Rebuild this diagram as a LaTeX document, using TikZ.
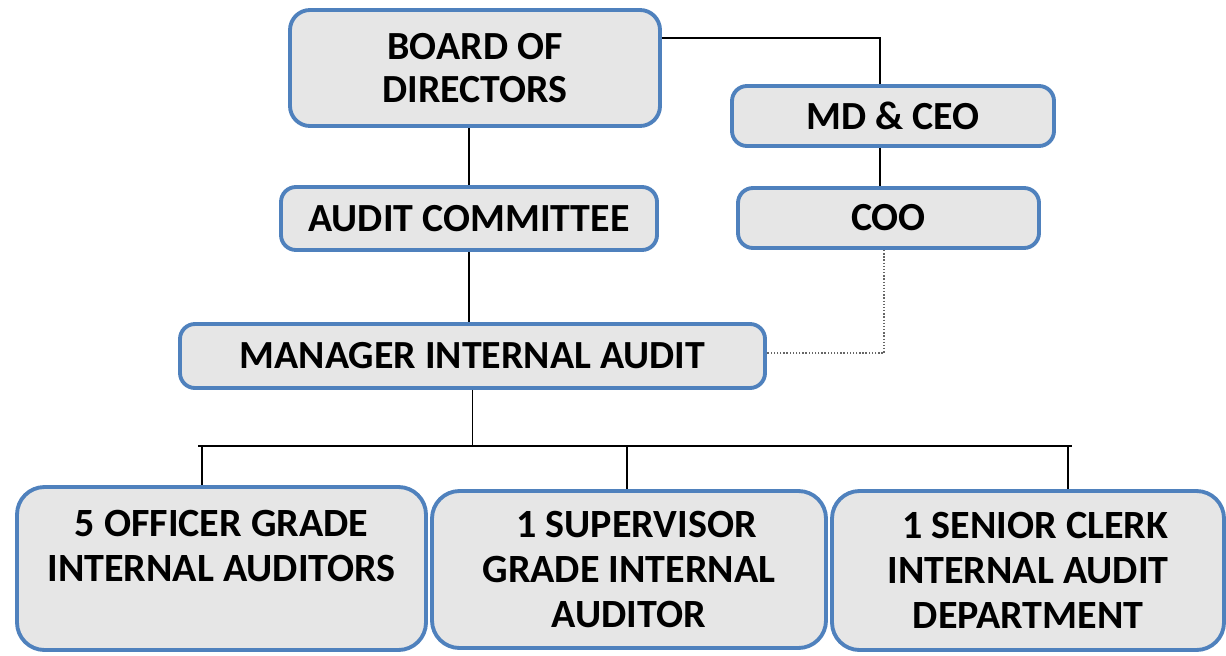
\documentclass[tikz,border=0pt]{standalone}
\usepackage{fontspec}
\setmainfont{Carlito}
\usetikzlibrary{calc}

\definecolor{boxblue}{RGB}{79,129,189}
\definecolor{boxgray}{RGB}{230,230,230}

\tikzset{
    post/.style={draw=boxblue, fill=boxgray, line width=2.2pt, rounded corners=0.3cm,
        inner sep=0pt, align=center, font=\fontsize{22.7}{24.5}\selectfont\bfseries},
    bigpost/.style={post, rounded corners=0.55cm, font=\fontsize{22.8}{25.5}\selectfont\bfseries},
    link/.style={line width=0.7pt, black},
}

\begin{document}
\begin{tikzpicture}
    \useasboundingbox (0,0) rectangle (24.52,-13.1);

    \node[post, rounded corners=0.4cm, minimum width=7.40cm, minimum height=2.32cm] (bod) at (9.50,-1.36) {BOARD OF\\DIRECTORS};
    \node[post, minimum width=6.44cm, minimum height=1.20cm] (mdceo) at (17.86,-2.32) {MD \& CEO};
    \node[post, minimum width=7.52cm, minimum height=1.26cm] (ac) at (9.38,-4.37) {AUDIT COMMITTEE};
    \node[post, minimum width=6.02cm, minimum height=1.20cm] (coo) at (17.77,-4.36) {COO};
    \node[post, minimum width=11.70cm, minimum height=1.28cm] (mia) at (9.45,-7.12) {MANAGER INTERNAL AUDIT};

    \node[bigpost, minimum width=8.18cm, minimum height=3.26cm] (ofc) at (4.43,-11.37) {5 OFFICER GRADE\\INTERNAL AUDITORS\\ \mbox{}};
    \node[bigpost, minimum width=7.88cm, minimum height=3.14cm] (sup) at (12.58,-11.39) {\hspace{0.3cm}1 SUPERVISOR\\GRADE INTERNAL\\AUDITOR};
    \node[bigpost, minimum width=7.84cm, minimum height=3.18cm] (clk) at (20.56,-11.41) {\hspace{0.3cm}1 SENIOR CLERK\\INTERNAL AUDIT\\DEPARTMENT};

    \coordinate (bodcorner) at (17.60,-0.76);
    \coordinate (dotcorner) at (17.68,-7.06);
    \coordinate (busl) at (3.96,-8.92);
    \coordinate (busr) at (21.44,-8.92);
    \coordinate (drop1) at (4.04,-8.92);
    \coordinate (drop2) at (12.54,-8.92);
    \coordinate (drop3) at (21.36,-8.92);

    \draw[link] (bod.east |- bodcorner) -- (bodcorner) -- (mdceo.north -| bodcorner);
    \draw[link] (mdceo.south -| bodcorner) -- (coo.north -| bodcorner);
    \draw[link] (ac.north |- bod.south) -- (ac.north);
    \draw[link] (ac.south) -- (ac.south |- mia.north);
    \draw[line width=0.8pt, densely dotted, black!60] (coo.south -| dotcorner) -- (dotcorner) -- (dotcorner -| mia.east);

    \draw[link] (mia.south) -- (mia.south |- busl);
    \draw[link] (busl) -- (busr);
    \foreach \d/\b in {drop1/ofc, drop2/sup, drop3/clk}
        \draw[link] (\d) -- (\d |- \b.north);
\end{tikzpicture}
\end{document}
